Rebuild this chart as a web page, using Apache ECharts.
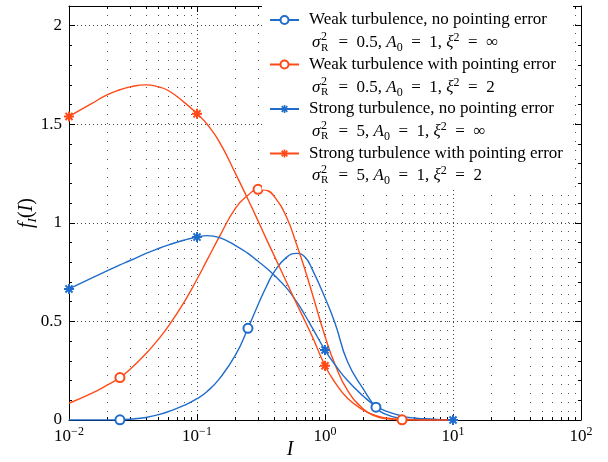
<!DOCTYPE html>
<html>
<head>
<meta charset="utf-8">
<script src="https://cdn.jsdelivr.net/npm/echarts@6/dist/echarts.min.js"></script>
<style>
html, body { margin: 0; padding: 0; background: #fff; }
#chart { width: 608px; height: 462px; }
</style>
</head>
<body>
<div id="chart"></div>
<script>
const intensity = [0.01, 0.015, 0.02, 0.025, 0.03, 0.04, 0.05, 0.06, 0.08, 0.1, 0.12, 0.15, 0.2, 0.25, 0.3, 0.35, 0.4, 0.5, 0.6, 0.7, 0.8, 1, 1.2, 1.5, 2, 2.5, 3, 4, 5, 6, 8, 10]
const weakNoPE = [0, 0, 0, 0.001, 0.004, 0.013, 0.027, 0.043, 0.075, 0.108, 0.145, 0.21, 0.33, 0.465, 0.585, 0.68, 0.75, 0.825, 0.845, 0.825, 0.76, 0.62, 0.49, 0.295, 0.155, 0.065, 0.028, 0.007, 0.002, 0, 0, 0]
const weakPE = [0.085, 0.135, 0.178, 0.215, 0.257, 0.337, 0.41, 0.477, 0.602, 0.714, 0.812, 0.931, 1.075, 1.14, 1.17, 1.165, 1.135, 1.03, 0.89, 0.76, 0.635, 0.425, 0.28, 0.15, 0.055, 0.018, 0.007, 0.001, 0, 0, 0, 0]
const strongNoPE = [0.665, 0.72, 0.758, 0.787, 0.809, 0.845, 0.87, 0.888, 0.913, 0.928, 0.935, 0.925, 0.885, 0.845, 0.805, 0.77, 0.735, 0.67, 0.6, 0.53, 0.465, 0.355, 0.28, 0.2, 0.12, 0.07, 0.045, 0.02, 0.01, 0.006, 0.002, 0]
const strongPE = [1.54, 1.605, 1.65, 1.675, 1.69, 1.7, 1.69, 1.67, 1.61, 1.553, 1.5, 1.41, 1.25, 1.12, 1.01, 0.915, 0.835, 0.7, 0.59, 0.5, 0.42, 0.275, 0.19, 0.11, 0.05, 0.022, 0.01, 0.003, 0.001, 0, 0, 0]

// where the markers sit on each curve
const weakNoPEMarks = [0.025, 0.25, 2.5]
const weakPEMarks = [0.025, 0.3, 4]
const strongNoPEMarks = [0.01, 0.1, 1, 10]
const strongPEMarks = [0.01, 0.1, 1]

const seriesNames = [
  'Weak turbulence, no pointing error',
  'Weak turbulence with pointing error',
  'Strong turbulence, no pointing error',
  'Strong turbulence with pointing error'
]
const paramValues = ['0.5', '0.5', '5', '5']
const xiValues = ['∞', '2', '∞', '2']

const BLUE = '#1f6ccb'
const ORANGE = '#ff4a17'
const FONT = 'Liberation Serif'
const EQ = '\u2002=\u2002'
const STAR = 'path://M-2,-10L2,-10L2,10L-2,10Z M-10,-2L10,-2L10,2L-10,2Z M-5.66,-8.49L8.49,5.66L5.66,8.49L-8.49,-5.66Z M5.66,-8.49L8.49,-5.66L-5.66,8.49L-8.49,5.66Z'

function buildData (ys, marks) {
  return intensity.map((x, i) => {
    const item = { value: [x, ys[i]] }
    if (!marks.includes(x)) item.symbol = 'none'
    return item
  })
}

function makeSeries (name, ys, marks, color, symbol) {
  return {
    name: name,
    type: 'line',
    smooth: 0.5,
    showAllSymbol: true,
    symbol: symbol,
    symbolSize: symbol === 'emptyCircle' ? 9 : 10,
    data: buildData(ys, marks),
    lineStyle: { color: color, width: 1.4 },
    itemStyle: { color: color, borderWidth: 1.3 }
  }
}

// parameter line under each legend entry
function paramLine (i, y) {
  return [
    { type: 'text', x: 312, y: y, z: 20, style: { text: 'σ', font: 'italic 17px ' + FONT, fill: '#000', verticalAlign: 'middle' } },
    { type: 'text', x: 321, y: y - 6, z: 20, style: { text: '2', font: '12px ' + FONT, fill: '#000', verticalAlign: 'middle' } },
    { type: 'text', x: 321, y: y + 5, z: 20, style: { text: 'R', font: '11px ' + FONT, fill: '#000', verticalAlign: 'middle' } },
    {
      type: 'text',
      x: 330,
      y: y,
      z: 20,
      style: {
        text: '{t|' + EQ + paramValues[i] + ', }{i|A}{sub|0}{t|' + EQ + '1, }{i|ξ}{sup|2}{t|' + EQ + xiValues[i] + '}',
        verticalAlign: 'middle',
        rich: {
          t: { fontFamily: FONT, fontSize: 17, lineHeight: 22, color: '#000' },
          i: { fontFamily: FONT, fontSize: 17, lineHeight: 22, fontStyle: 'italic', color: '#000' },
          sub: { fontFamily: FONT, fontSize: 12, lineHeight: 11, verticalAlign: 'bottom', color: '#000' },
          sup: { fontFamily: FONT, fontSize: 12, lineHeight: 11, verticalAlign: 'top', color: '#000' }
        }
      }
    }
  ]
}

const chart = echarts.init(document.getElementById('chart'))

const logAxisBase = {
  type: 'log',
  logBase: 10,
  min: 0.01,
  max: 100,
  axisLine: { show: true, onZero: false, lineStyle: { color: '#000', width: 1 } },
  axisTick: { show: true, inside: true, length: 6, lineStyle: { color: '#000' } },
  minorTick: { show: true, splitNumber: 9, length: 3, lineStyle: { color: '#000' } }
}

const valueAxisBase = {
  type: 'value',
  min: 0,
  max: 2.1,
  interval: 0.5,
  axisLine: { show: true, onZero: false, lineStyle: { color: '#000', width: 1 } },
  axisTick: { show: true, inside: true, length: 6, lineStyle: { color: '#000' } },
  minorTick: { show: true, splitNumber: 5, length: 3, lineStyle: { color: '#000' } }
}

chart.setOption({
  animation: false,
  grid: { left: 69, right: 27, top: 6, bottom: 42, outerBoundsMode: 'none' },
  legend: {
    data: seriesNames,
    orient: 'vertical',
    left: 262,
    top: 6,
    padding: [4, 10, 26, 7],
    itemGap: 24.5,
    itemWidth: 29,
    itemHeight: 10,
    backgroundColor: '#fff',
    textStyle: { fontFamily: FONT, fontSize: 17, lineHeight: 20, color: '#000', padding: [0, 0, 0, 5] }
  },
  xAxis: [
    Object.assign({}, logAxisBase, {
      position: 'bottom',
      splitLine: { show: true, lineStyle: { color: '#444', type: [1, 3] } },
      minorSplitLine: { show: true, lineStyle: { color: '#555', type: [1, 8] } },
      axisLabel: {
        margin: 6,
        formatter: function (v) {
          const e = Math.round(Math.log10(v))
          return '{b|10}{s|' + (e < 0 ? '−' + (-e) : e) + '}'
        },
        rich: {
          b: { fontFamily: FONT, fontSize: 17, lineHeight: 22, color: '#000' },
          s: { fontFamily: FONT, fontSize: 12, lineHeight: 12, verticalAlign: 'top', color: '#000' }
        }
      },
      name: 'I',
      nameLocation: 'middle',
      nameGap: 20,
      nameMoveOverlap: false,
      nameTextStyle: { fontFamily: FONT, fontStyle: 'italic', fontSize: 20, color: '#000', padding: [0, 70, 0, 0] }
    }),
    Object.assign({}, logAxisBase, {
      position: 'top',
      axisLabel: { show: false },
      splitLine: { show: false }
    })
  ],
  yAxis: [
    Object.assign({}, valueAxisBase, {
      position: 'left',
      splitLine: { show: true, lineStyle: { color: '#444', type: [1, 3] } },
      axisLabel: {
        fontFamily: FONT,
        fontSize: 17,
        color: '#000',
        margin: 7,
        showMaxLabel: false,
        formatter: function (v) {
          return Math.abs(v * 2 - Math.round(v * 2)) < 1e-6 ? String(v) : ''
        }
      },
      name: '{i|f}{sub|I}{t|(}{i|I}{t|)}',
      nameLocation: 'middle',
      nameRotate: 90,
      nameGap: 30,
      nameMoveOverlap: false,
      nameTextStyle: {
        rich: {
          i: { fontFamily: FONT, fontStyle: 'italic', fontSize: 20, lineHeight: 24, color: '#000' },
          t: { fontFamily: FONT, fontSize: 20, lineHeight: 24, color: '#000' },
          sub: { fontFamily: FONT, fontStyle: 'italic', fontSize: 13, lineHeight: 13, verticalAlign: 'bottom', color: '#000' }
        }
      }
    }),
    Object.assign({}, valueAxisBase, {
      position: 'right',
      axisLabel: { show: false },
      splitLine: { show: false }
    })
  ],
  graphic: [].concat(paramLine(0, 43), paramLine(1, 87.5), paramLine(2, 131.5), paramLine(3, 175.5)),
  series: [
    makeSeries(seriesNames[0], weakNoPE, weakNoPEMarks, BLUE, 'emptyCircle'),
    makeSeries(seriesNames[1], weakPE, weakPEMarks, ORANGE, 'emptyCircle'),
    makeSeries(seriesNames[2], strongNoPE, strongNoPEMarks, BLUE, STAR),
    makeSeries(seriesNames[3], strongPE, strongPEMarks, ORANGE, STAR)
  ]
})
</script>
</body>
</html>
